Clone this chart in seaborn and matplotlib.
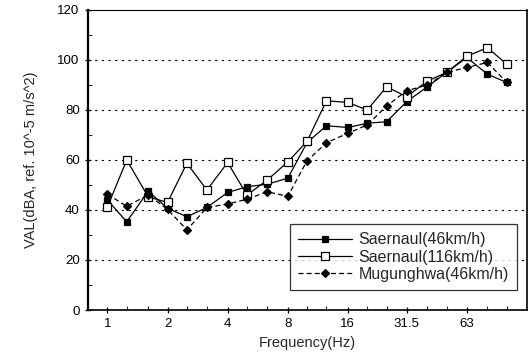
import numpy as np
import pandas as pd
import seaborn as sns
import matplotlib
matplotlib.use("Agg")
import matplotlib.pyplot as plt
from matplotlib.ticker import FixedLocator, FixedFormatter, MultipleLocator

# One-third octave band centre frequencies (Hz)
freq = [1, 1.25, 1.6, 2, 2.5, 3.15, 4, 5, 6.3, 8, 10, 12.5, 16, 20, 25,
        31.5, 40, 50, 63, 80, 100]

saernaul_46 = [44, 35.3, 47.5, 40.7, 37.3, 41, 47, 49.3, 50.3, 52.7, 67,
               73.7, 73, 74.7, 75.3, 83.3, 89.3, 95, 101, 94.3, 91]
saernaul_116 = [41.2, 60, 45.3, 43, 58.7, 48, 59, 46, 51.9, 59.2, 67.5,
                83.7, 83, 80, 89.3, 85.3, 91.6, 95, 101.5, 104.9, 98.3]
mugunghwa_46 = [46.3, 41.5, 46, 40.3, 32, 41, 42.4, 44.3, 47.3, 45.5, 59.7,
                66.9, 70.7, 74, 81.6, 87.7, 90, 95, 97, 99, 91]

series_names = ["Saernaul(46km/h)", "Saernaul(116km/h)", "Mugunghwa(46km/h)"]
xtick_vals = [1, 2, 4, 8, 16, 31.5, 63]
xtick_labels = ["1", "2", "4", "8", "16", "31.5", "63"]

df = pd.DataFrame({
    "freq": freq * 3,
    "val": saernaul_46 + saernaul_116 + mugunghwa_46,
    "series": [n for n in series_names for _ in freq],
})

sns.set_style("ticks")
plt.rcParams["font.family"] = ["Liberation Sans", "DejaVu Sans"]

fig = plt.figure(figsize=(5.29, 3.63), dpi=100)
ax = fig.add_axes([0.1664, 0.146, 0.8296, 0.8265])

ax.set_xscale("log", base=2)

sns.lineplot(
    data=df, x="freq", y="val", hue="series", style="series",
    hue_order=series_names, style_order=series_names,
    palette=["black", "black", "black"],
    markers={"Saernaul(46km/h)": "s", "Saernaul(116km/h)": "s",
             "Mugunghwa(46km/h)": "D"},
    dashes={"Saernaul(46km/h)": "", "Saernaul(116km/h)": "",
            "Mugunghwa(46km/h)": (4, 2.5)},
    linewidth=0.9, markersize=5, ax=ax, legend=True,
)

faces = ["black", "white", "black"]
sizes = [4.5, 5.2, 3.6]


def style_markers(lines):
    for line, face, size in zip(lines, faces, sizes):
        line.set_markerfacecolor(face)
        line.set_markeredgecolor("black")
        line.set_markeredgewidth(0.9)
        line.set_markersize(size)


style_markers(ax.lines[:3])

ax.set_xlim(0.8, 126)
ax.set_ylim(0, 120)
ax.xaxis.set_major_locator(FixedLocator(xtick_vals))
ax.xaxis.set_major_formatter(FixedFormatter(xtick_labels))
ax.xaxis.set_minor_locator(FixedLocator([f for f in freq if f not in xtick_vals]))
ax.xaxis.set_minor_formatter(FixedFormatter([]))
ax.yaxis.set_major_locator(MultipleLocator(20))
ax.yaxis.set_minor_locator(MultipleLocator(10))

ax.tick_params(axis="both", which="major", direction="inout", length=5,
               width=0.9, labelsize=9.5, colors="black")
ax.tick_params(axis="both", which="minor", direction="in", length=3, width=0.8)

for y in [20, 40, 60, 80, 100]:
    ax.axhline(y, color="black", linestyle=(0, (2, 4)), linewidth=0.8, zorder=0)

for side, lw in [("left", 1.6), ("bottom", 1.2), ("top", 0.8), ("right", 1.2)]:
    ax.spines[side].set_visible(True)
    ax.spines[side].set_linewidth(lw)
    ax.spines[side].set_color("black")

ax.set_xlabel("Frequency(Hz)", fontsize=10.5, labelpad=4)
ax.set_ylabel("VAL(dBA, ref. 10^-5 m/s^2)", fontsize=10.5, labelpad=14)

handles, labels = ax.get_legend_handles_labels()
leg = ax.legend(handles, labels, loc="lower right", bbox_to_anchor=(0.977, 0.067),
                frameon=True, fancybox=False, edgecolor="black", fontsize=11.5,
                handlelength=3.4, borderpad=0.5, labelspacing=0.15,
                handletextpad=0.4, borderaxespad=0)
leg.get_frame().set_linewidth(0.9)
style_markers(leg.legend_handles)

fig.savefig("out.png", dpi=100)
